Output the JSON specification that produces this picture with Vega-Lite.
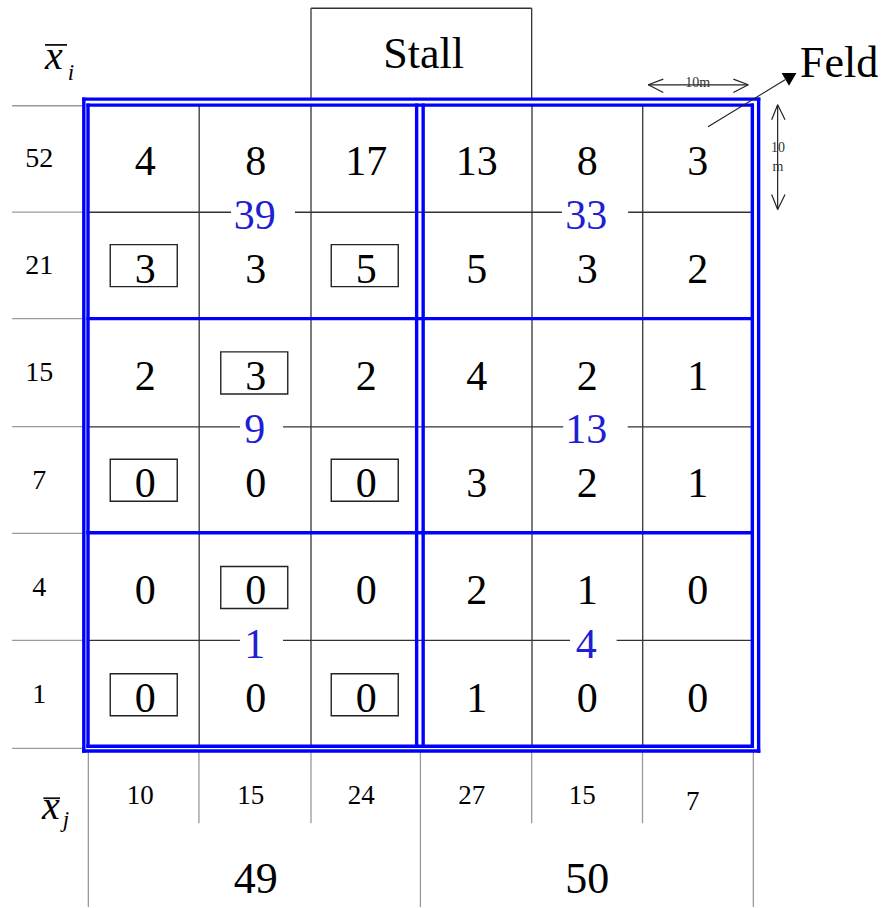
{
  "$schema": "https://vega.github.io/schema/vega-lite/v6.json",
  "width": 884,
  "height": 908,
  "autosize": {"type": "fit", "contains": "padding"},
  "padding": 0,
  "background": "white",
  "config": {"view": {"stroke": null}},
  "datasets": {
    "cells": [
      {"x":5,"y":5,"t":"4","box":false},{"x":15,"y":5,"t":"8","box":false},{"x":25,"y":5,"t":"17","box":false},{"x":35,"y":5,"t":"13","box":false},{"x":45,"y":5,"t":"8","box":false},{"x":55,"y":5,"t":"3","box":false},
      {"x":5,"y":15,"t":"3","box":true},{"x":15,"y":15,"t":"3","box":false},{"x":25,"y":15,"t":"5","box":true},{"x":35,"y":15,"t":"5","box":false},{"x":45,"y":15,"t":"3","box":false},{"x":55,"y":15,"t":"2","box":false},
      {"x":5,"y":25,"t":"2","box":false},{"x":15,"y":25,"t":"3","box":true},{"x":25,"y":25,"t":"2","box":false},{"x":35,"y":25,"t":"4","box":false},{"x":45,"y":25,"t":"2","box":false},{"x":55,"y":25,"t":"1","box":false},
      {"x":5,"y":35,"t":"0","box":true},{"x":15,"y":35,"t":"0","box":false},{"x":25,"y":35,"t":"0","box":true},{"x":35,"y":35,"t":"3","box":false},{"x":45,"y":35,"t":"2","box":false},{"x":55,"y":35,"t":"1","box":false},
      {"x":5,"y":45,"t":"0","box":false},{"x":15,"y":45,"t":"0","box":true},{"x":25,"y":45,"t":"0","box":false},{"x":35,"y":45,"t":"2","box":false},{"x":45,"y":45,"t":"1","box":false},{"x":55,"y":45,"t":"0","box":false},
      {"x":5,"y":55,"t":"0","box":true},{"x":15,"y":55,"t":"0","box":false},{"x":25,"y":55,"t":"0","box":true},{"x":35,"y":55,"t":"1","box":false},{"x":45,"y":55,"t":"0","box":false},{"x":55,"y":55,"t":"0","box":false}
    ],
    "blockSums": [
      {"x":15,"y":10,"t":"39"},{"x":45,"y":10,"t":"33"},
      {"x":15,"y":30,"t":"9"},{"x":45,"y":30,"t":"13"},
      {"x":15,"y":50,"t":"1"},{"x":45,"y":50,"t":"4"}
    ],
    "rowLabels": [
      {"x":-4.6,"y":5,"t":"52"},{"x":-4.6,"y":15,"t":"21"},{"x":-4.6,"y":25,"t":"15"},
      {"x":-4.6,"y":35,"t":"7"},{"x":-4.6,"y":45,"t":"4"},{"x":-4.6,"y":55,"t":"1"}
    ],
    "colLabels": [
      {"x":5,"y":64.44,"t":"10"},{"x":15,"y":64.44,"t":"15"},{"x":25,"y":64.44,"t":"24"},
      {"x":35,"y":64.44,"t":"27"},{"x":45,"y":64.44,"t":"15"},{"x":55,"y":64.99,"t":"7"}
    ],
    "totals": [
      {"x":15,"y":72.25,"t":"49"},{"x":45,"y":72.25,"t":"50"}
    ],
    "titleCenter": [{"x":30.2,"y":-4.67,"t":"Stall"}],
    "titleLeft": [{"x":64.25,"y":-3.84,"t":"Feld"}],
    "smallText": [
      {"x":55.0,"y":-2.0,"t":"10m"},
      {"x":62.26,"y":4.0,"t":"10"},
      {"x":62.26,"y":5.77,"t":"m"}
    ],
    "varBig": [{"x":-3.26,"y":-4.43,"t":"x"},{"x":-3.55,"y":65.45,"t":"x"}],
    "varSub": [{"x":-1.72,"y":-3.0,"t":"i"},{"x":-2.17,"y":66.64,"t":"j"}],
    "varBars": [
      {"x":-4.07,"y":-5.58,"x2":-2.08,"y2":-5.58},
      {"x":-4.22,"y":64.65,"x2":-2.71,"y2":64.65}
    ],
    "blue": [
      {"x":-0.56,"y":-0.53,"x2":60.51,"y2":-0.53},
      {"x":60.51,"y":-0.53,"x2":60.51,"y2":60.25},
      {"x":-0.56,"y":60.25,"x2":60.51,"y2":60.25},
      {"x":-0.56,"y":-0.53,"x2":-0.56,"y2":60.25},
      {"x":-0.18,"y":0.03,"x2":59.94,"y2":0.03},
      {"x":59.94,"y":0.03,"x2":59.94,"y2":59.81},
      {"x":-0.18,"y":59.81,"x2":59.94,"y2":59.81},
      {"x":-0.18,"y":0.03,"x2":-0.18,"y2":59.81},
      {"x":29.56,"y":0.03,"x2":29.56,"y2":59.81},
      {"x":30.15,"y":0.03,"x2":30.15,"y2":59.81},
      {"x":-0.18,"y":19.94,"x2":59.94,"y2":19.94},
      {"x":-0.18,"y":39.9,"x2":59.94,"y2":39.9}
    ],
    "black": [
      {"x":9.88,"y":0.03,"x2":9.88,"y2":59.81},
      {"x":20,"y":0.03,"x2":20,"y2":59.81},
      {"x":40,"y":0.03,"x2":40,"y2":59.81},
      {"x":50.02,"y":0.03,"x2":50.02,"y2":59.81},
      {"x":-0.18,"y":10.02,"x2":12.76,"y2":10.02},
      {"x":18.55,"y":10.02,"x2":42.7,"y2":10.02},
      {"x":48.7,"y":10.02,"x2":59.94,"y2":10.02},
      {"x":-0.18,"y":30.03,"x2":13.57,"y2":30.03},
      {"x":17.47,"y":30.03,"x2":42.83,"y2":30.03},
      {"x":48.66,"y":30.03,"x2":59.94,"y2":30.03},
      {"x":-0.18,"y":49.93,"x2":13.57,"y2":49.93},
      {"x":17.47,"y":49.93,"x2":43.44,"y2":49.93},
      {"x":47.66,"y":49.93,"x2":59.94,"y2":49.93},
      {"x":20,"y":-9.0,"x2":20,"y2":-0.53},
      {"x":20,"y":-9.0,"x2":39.97,"y2":-9.0},
      {"x":39.97,"y":-9.0,"x2":39.97,"y2":-0.53}
    ],
    "grey": [
      {"x":-7.05,"y":0.09,"x2":-0.56,"y2":0.09},
      {"x":-7.05,"y":10.0,"x2":-0.56,"y2":10.0},
      {"x":-7.05,"y":19.94,"x2":-0.56,"y2":19.94},
      {"x":-7.05,"y":30.0,"x2":-0.56,"y2":30.0},
      {"x":-7.05,"y":39.95,"x2":-0.56,"y2":39.95},
      {"x":-7.05,"y":49.93,"x2":-0.56,"y2":49.93},
      {"x":-7.05,"y":60.0,"x2":-0.56,"y2":60.0},
      {"x":-0.15,"y":60.25,"x2":-0.15,"y2":74.8},
      {"x":9.86,"y":60.25,"x2":9.86,"y2":66.98},
      {"x":20,"y":60.25,"x2":20,"y2":66.98},
      {"x":29.9,"y":60.25,"x2":29.9,"y2":74.8},
      {"x":39.97,"y":60.25,"x2":39.97,"y2":66.98},
      {"x":50,"y":60.25,"x2":50,"y2":66.98},
      {"x":60.03,"y":60.25,"x2":60.03,"y2":74.8}
    ],
    "arrows": [
      {"x":50.52,"y":-1.86,"x2":59.57,"y2":-1.86},
      {"x":50.52,"y":-1.86,"x2":51.88,"y2":-2.39},
      {"x":50.52,"y":-1.86,"x2":51.88,"y2":-1.14},
      {"x":59.57,"y":-1.86,"x2":58.22,"y2":-2.39},
      {"x":59.57,"y":-1.86,"x2":58.22,"y2":-1.14},
      {"x":62.23,"y":0,"x2":62.23,"y2":9.77},
      {"x":62.23,"y":0,"x2":61.69,"y2":1.4},
      {"x":62.23,"y":0,"x2":62.9,"y2":1.4},
      {"x":62.23,"y":9.77,"x2":61.69,"y2":8.37},
      {"x":62.23,"y":9.77,"x2":62.9,"y2":8.37},
      {"x":55.93,"y":2.05,"x2":62.9,"y2":-2.33}
    ],
    "arrowHead": [{"x":63.26,"y":-2.36}]
  },
  "encoding": {
    "x": {"field": "x", "type": "quantitative", "scale": {"domain": [-8.145, 71.855], "nice": false, "zero": false}, "axis": null},
    "y": {"field": "y", "type": "quantitative", "scale": {"domain": [-9.767, 74.698], "nice": false, "zero": false, "reverse": true}, "axis": null}
  },
  "layer": [
    {"data": {"name": "grey"}, "mark": {"type": "rule", "color": "#9a9a9a", "strokeWidth": 1.3}, "encoding": {"x2": {"field": "x2"}, "y2": {"field": "y2"}}},
    {"data": {"name": "black"}, "mark": {"type": "rule", "color": "#333333", "strokeWidth": 1.3}, "encoding": {"x2": {"field": "x2"}, "y2": {"field": "y2"}}},
    {"data": {"name": "blue"}, "mark": {"type": "rule", "color": "#0000ff", "strokeWidth": 3.4, "strokeCap": "square"}, "encoding": {"x2": {"field": "x2"}, "y2": {"field": "y2"}}},
    {"data": {"name": "arrows"}, "mark": {"type": "rule", "color": "#222222", "strokeWidth": 1.2}, "encoding": {"x2": {"field": "x2"}, "y2": {"field": "y2"}}},
    {"data": {"name": "varBars"}, "mark": {"type": "rule", "color": "#111111", "strokeWidth": 1.8}, "encoding": {"x2": {"field": "x2"}, "y2": {"field": "y2"}}},
    {"data": {"name": "arrowHead"}, "mark": {"type": "point", "shape": "triangle-down", "size": 220, "filled": true, "color": "#000000", "opacity": 1}},
    {"data": {"name": "cells"}, "transform": [{"filter": "datum.box"}], "mark": {"type": "point", "shape": "M-1,-0.627L1,-0.627L1,0.627L-1,0.627Z", "size": 4489, "filled": false, "color": "#222222", "strokeWidth": 1.4, "opacity": 1, "xOffset": -1.5}},
    {"data": {"name": "cells"}, "mark": {"type": "text", "font": "Liberation Serif", "fontSize": 42, "color": "#000000", "align": "center", "baseline": "middle", "dy": 4}, "encoding": {"text": {"field": "t"}}},
    {"data": {"name": "blockSums"}, "mark": {"type": "text", "font": "Liberation Serif", "fontSize": 42, "color": "#1e1ed2", "align": "center", "baseline": "middle", "dy": 3.5, "dx": -1}, "encoding": {"text": {"field": "t"}}},
    {"data": {"name": "rowLabels"}, "mark": {"type": "text", "font": "Liberation Serif", "fontSize": 28, "color": "#000000", "align": "center", "baseline": "middle", "dy": 0.5}, "encoding": {"text": {"field": "t"}}},
    {"data": {"name": "colLabels"}, "mark": {"type": "text", "font": "Liberation Serif", "fontSize": 27, "color": "#000000", "align": "center", "baseline": "middle", "dx": -5}, "encoding": {"text": {"field": "t"}}},
    {"data": {"name": "totals"}, "mark": {"type": "text", "font": "Liberation Serif", "fontSize": 44, "color": "#000000", "align": "center", "baseline": "middle"}, "encoding": {"text": {"field": "t"}}},
    {"data": {"name": "titleCenter"}, "mark": {"type": "text", "font": "Liberation Serif", "fontSize": 44, "color": "#000000", "align": "center", "baseline": "middle"}, "encoding": {"text": {"field": "t"}}},
    {"data": {"name": "titleLeft"}, "mark": {"type": "text", "font": "Liberation Serif", "fontSize": 44, "color": "#000000", "align": "left", "baseline": "middle"}, "encoding": {"text": {"field": "t"}}},
    {"data": {"name": "smallText"}, "mark": {"type": "text", "font": "Liberation Serif", "fontSize": 14, "color": "#333333", "align": "center", "baseline": "middle"}, "encoding": {"text": {"field": "t"}}},
    {"data": {"name": "varBig"}, "mark": {"type": "text", "font": "Liberation Serif", "fontSize": 40, "fontStyle": "italic", "color": "#000000", "align": "center", "baseline": "middle"}, "encoding": {"text": {"field": "t"}}},
    {"data": {"name": "varSub"}, "mark": {"type": "text", "font": "Liberation Serif", "fontSize": 23, "fontStyle": "italic", "color": "#000000", "align": "center", "baseline": "middle"}, "encoding": {"text": {"field": "t"}}}
  ]
}
